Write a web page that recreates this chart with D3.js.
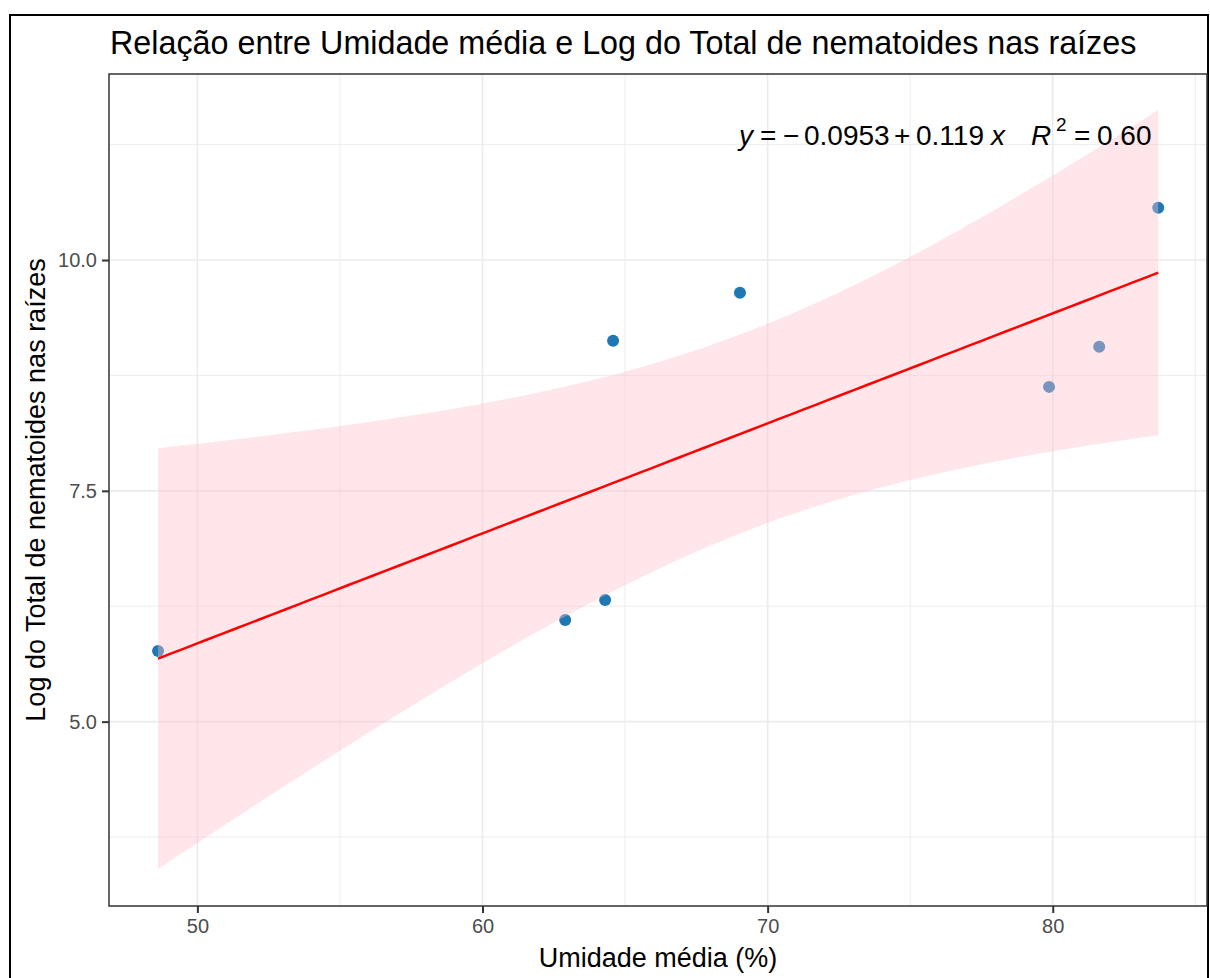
<!DOCTYPE html>
<html>
<head>
<meta charset="utf-8">
<script src="https://cdn.jsdelivr.net/npm/d3@7"></script>
<style>
  body { margin: 0; background: #fff; }
  text { font-family: "Liberation Sans", Arial, sans-serif; }
</style>
</head>
<body>
<div id="chart"></div>
<script>
const width = 1210
const height = 978
const margin = { top: 74, left: 109 }
const pw = 1207 - margin.left
const ph = 906 - margin.top

// data
const umidade = [48.62, 62.90, 64.30, 64.58, 69.03, 79.87, 81.63, 83.70]
const logTotal = [5.766, 6.10, 6.318, 9.125, 9.645, 8.626, 9.06, 10.566]
const xTicks = [50, 60, 70, 80]
const xMinor = [55, 65, 75, 85]
const yTicks = [5.0, 7.5, 10.0]
const yMinor = [3.75, 6.25, 8.75, 11.25]

const titleText = "Relação entre Umidade média e Log do Total de nematoides nas raízes"
const xLabelText = "Umidade média (%)"
const yLabelText = "Log do Total de nematoides nas raízes"

const data = umidade.map((u, i) => ({ x: u, y: logTotal[i] }))

const svg = d3.select("div#chart").append("svg").attr("width", width).attr("height", height)

// outer frame of the image
svg.append("rect").attr("x", 10).attr("y", 15).attr("width", 1198).attr("height", 1000)
  .attr("fill", "none").attr("stroke", "#000").attr("stroke-width", 2)

const x = d3.scaleLinear().domain([46.9, 85.41]).range([0, pw])
const y = d3.scaleLinear().domain([3.003, 12.015]).range([ph, 0])

const g = svg.append("g").attr("transform", `translate(${margin.left}, ${margin.top})`)

// grid
g.selectAll("line.xminor").data(xMinor).enter().append("line")
  .attr("x1", d => x(d)).attr("x2", d => x(d)).attr("y1", 0).attr("y2", ph)
  .attr("stroke", "#EBEBEB").attr("stroke-width", 0.9)
g.selectAll("line.yminor").data(yMinor).enter().append("line")
  .attr("y1", d => y(d)).attr("y2", d => y(d)).attr("x1", 0).attr("x2", pw)
  .attr("stroke", "#EBEBEB").attr("stroke-width", 0.9)
g.selectAll("line.xmajor").data(xTicks).enter().append("line")
  .attr("x1", d => x(d)).attr("x2", d => x(d)).attr("y1", 0).attr("y2", ph)
  .attr("stroke", "#EBEBEB").attr("stroke-width", 1.6)
g.selectAll("line.ymajor").data(yTicks).enter().append("line")
  .attr("y1", d => y(d)).attr("y2", d => y(d)).attr("x1", 0).attr("x2", pw)
  .attr("stroke", "#EBEBEB").attr("stroke-width", 1.6)

// points (under the ribbon, the smooth is drawn last)
g.selectAll("circle").data(data).enter().append("circle")
  .attr("cx", d => x(d.x)).attr("cy", d => y(d.y)).attr("r", 6)
  .attr("fill", "#1F78B4")

// linear fit with 95% confidence band
const n = data.length
const mx = d3.mean(umidade), my = d3.mean(logTotal)
const sxx = d3.sum(umidade, v => (v - mx) ** 2)
const sxy = d3.sum(data, d => (d.x - mx) * (d.y - my))
const slope = sxy / sxx
const intercept = my - slope * mx
const sse = d3.sum(data, d => (d.y - intercept - slope * d.x) ** 2)
const s = Math.sqrt(sse / (n - 2))
const tcrit = 2.446912 // t(0.975, df = 6)
const [x0, x1] = d3.extent(umidade)
const fit = d3.range(80).map(i => {
  const xv = x0 + (x1 - x0) * i / 79
  const yv = intercept + slope * xv
  const se = s * Math.sqrt(1 / n + (xv - mx) ** 2 / sxx)
  return { x: xv, y: yv, lo: yv - tcrit * se, hi: yv + tcrit * se }
})

g.append("path").datum(fit)
  .attr("d", d3.area().x(d => x(d.x)).y0(d => y(d.lo)).y1(d => y(d.hi)))
  .attr("fill", "#FFC0CB").attr("fill-opacity", 0.4)
g.append("path").datum(fit)
  .attr("d", d3.line().x(d => x(d.x)).y(d => y(d.y)))
  .attr("fill", "none").attr("stroke", "#FF0000").attr("stroke-width", 2.5)

// panel border
g.append("rect").attr("width", pw).attr("height", ph)
  .attr("fill", "none").attr("stroke", "#333333").attr("stroke-width", 1.5)

// axes
const xAxis = d3.axisBottom(x).tickValues(xTicks).tickFormat(d3.format("d")).tickSize(7).tickPadding(6)
const yAxis = d3.axisLeft(y).tickValues(yTicks).tickFormat(d3.format(".1f")).tickSize(7).tickPadding(5)
const xAxisGroup = g.append("g").attr("transform", `translate(0, ${ph})`).call(xAxis)
const yAxisGroup = g.append("g").call(yAxis)
for (const ag of [xAxisGroup, yAxisGroup]) {
  ag.select(".domain").remove()
  ag.selectAll(".tick line").attr("stroke", "#333333").attr("stroke-width", 2)
  ag.selectAll(".tick text").attr("fill", "#4D4D4D").style("font-size", "20px")
    .style("font-family", "'Liberation Sans', Arial, sans-serif")
}

// title and axis labels
svg.append("text").text(titleText).attr("x", 110).attr("y", 54)
  .style("font-size", "32.3px").attr("fill", "#000")
svg.append("text").text(xLabelText).attr("x", margin.left + pw / 2).attr("y", 967)
  .attr("text-anchor", "middle").style("font-size", "27px").attr("fill", "#000")
svg.append("text").text(yLabelText)
  .attr("transform", `translate(45, ${margin.top + ph / 2}) rotate(-90)`)
  .attr("text-anchor", "middle").style("font-size", "27px").attr("fill", "#000")

// equation label, laid out piece by piece like plotmath
const eqParts = [
  { t: "y", x: 739, italic: true },
  { t: "=", x: 760 },
  { t: "\u2212", x: 783 },
  { t: "0.0953", x: 804 },
  { t: "+", x: 894 },
  { t: "0.119", x: 916 },
  { t: "x", x: 991, italic: true },
  { t: "R", x: 1031, italic: true },
  { t: "2", x: 1056, sup: true },
  { t: "=", x: 1074 },
  { t: "0.60", x: 1097 }
]
svg.selectAll("text.eq").data(eqParts).enter().append("text")
  .attr("class", "eq")
  .attr("x", d => d.x).attr("y", d => d.sup ? 131 : 145)
  .style("font-size", d => d.sup ? "19px" : "28px")
  .style("font-style", d => d.italic ? "italic" : "normal")
  .attr("fill", "#000")
  .text(d => d.t)
</script>
</body>
</html>
